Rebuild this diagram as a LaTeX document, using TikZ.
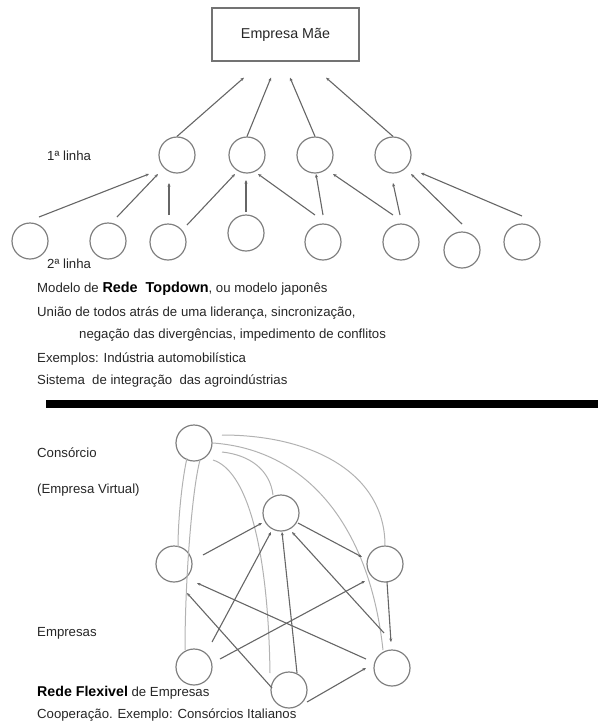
\documentclass[tikz,border=0pt]{standalone}
\usepackage{fontspec}
\setmainfont{Liberation Sans}
\usetikzlibrary{calc,arrows.meta}

\begin{document}
\begin{tikzpicture}[x=1pt,y=-1pt,font=\fontsize{13.2}{15}\selectfont,
  circ/.style={draw=black!50,line width=1.2pt,circle,minimum size=36pt,inner sep=0pt},
  arr/.style={draw=black!60,line width=1.1pt,-{Stealth[length=3.5pt,width=3pt]}},
  curv/.style={draw=black!30,line width=1pt},
  txt/.style={anchor=base west,inner sep=0pt,text=black!85}]
\useasboundingbox (0,0) rectangle (598,724);

\begin{scope}
\node[draw=black!55,line width=1.2pt,minimum width=147pt,minimum height=53pt,
  text=black!85,font=\fontsize{14.3}{16}\selectfont] (mae) at (285.5,34.5) {Empresa Mãe};

\node[circ] (l1) at (177,155) {};
\node[circ] (l2) at (247,155) {};
\node[circ] (l3) at (315,155) {};
\node[circ] (l4) at (393,155) {};

\node[circ] (c1) at (30,241) {};
\node[circ] (c2) at (108,241) {};
\node[circ] (c3) at (168,242) {};
\node[circ] (c4) at (246,233) {};
\node[circ] (c5) at (323,242) {};
\node[circ] (c6) at (401,242) {};
\node[circ] (c7) at (462,250) {};
\node[circ] (c8) at (522,242) {};

\draw[arr] (l1.north) -- ($(mae.south)+(-41.5,16)$);
\draw[arr] (l2.north) -- ($(mae.south)+(-14.5,16)$);
\draw[arr] (l3.north) -- ($(mae.south)+(4.5,16)$);
\draw[arr] (l4.north) -- ($(mae.south)+(40.5,16)$);

\draw[arr] ($(c1)+(9,-24)$) -- ($(l1)+(-28,19)$);
\draw[arr] ($(c2)+(9,-24)$) -- ($(l1)+(-19,19)$);
\draw[arr] ($(c3)+(1,-27)$) -- ($(l1)+(-8,28)$);
\draw[arr] ($(c3)+(19,-17)$) -- ($(l2)+(-12,19)$);
\draw[arr] ($(c4)+(0,-21)$) -- ($(l2)+(-1,25)$);
\draw[arr] ($(c5)+(-8,-27)$) -- ($(l2)+(11,19)$);
\draw[arr] ($(c5)+(0,-27)$) -- ($(l3)+(1,19)$);
\draw[arr] ($(c6)+(-8,-27)$) -- ($(l3)+(18,19)$);
\draw[arr] ($(c6)+(-1,-27)$) -- ($(l4)+(0,28)$);
\draw[arr] ($(c7)+(0,-26)$) -- ($(l4)+(18,19)$);
\draw[arr] ($(c8)+(0,-26)$) -- ($(l4)+(28,18)$);

\node[txt] (linha1) at (47,160) {1ª linha};
\node[txt] (linha2) at (47,268) {2ª linha};

\node[txt] (t1) at (37,292) {Modelo de {\fontsize{14.4}{16}\selectfont\bfseries\color{black}Rede\ \ Topdown}, ou modelo japonês};
\node[txt] (t2) at (37,316) {União de todos atrás de uma liderança, sincronização,};
\node[txt] (t3) at (79,338) {negação das divergências, impedimento de conflitos};
\node[txt] (t4) at (37,362) {Exemplos: Indústria automobilística};
\node[txt] (t5) at (37,384) {Sistema\ \ de integração\ \ das agroindústrias};
\end{scope}

\fill[black] (46,400) rectangle (598,408);

\begin{scope}
\node[circ] (a) at (194,443) {};
\node[circ] (b) at (281,513) {};
\node[circ] (c) at (174,564) {};
\node[circ] (d) at (385,564) {};
\node[circ] (e) at (194,667) {};
\node[circ] (f) at (289,690) {};
\node[circ] (g) at (392,668) {};

\draw[curv] ($(a)+(28,-8)$) .. controls (315,435) and (385,475) .. (d.north);
\draw[curv] ($(a)+(19,0)$) .. controls (310,450) and (370,530) .. ($(g)+(-9,-18)$);
\draw[curv] ($(a)+(28,9)$) .. controls (250,455) and (270,470) .. ($(b)+(-8,-18)$);
\draw[curv] ($(a)+(19,17)$) .. controls (245,470) and (268,540) .. ($(f)+(-19,-17)$);
\draw[curv] ($(a)+(6,17)$) .. controls (192,490) and (185,580) .. ($(e)+(-9,-17)$);
\draw[curv] ($(a)+(-7,15)$) .. controls (182,480) and (178,520) .. ($(c)+(4,-17)$);

\draw[arr] ($(c)+(29,-9)$) -- ($(b)+(-19,10)$);
\draw[arr] ($(b)+(17,10)$) -- ($(d)+(-23,-7)$);
\draw[arr] ($(d)+(2,18)$) -- ($(g)+(-1,-26)$);
\draw[arr] ($(e)+(18,-25)$) -- ($(b)+(-10,19)$);
\draw[arr] ($(e)+(26,-8)$) -- ($(d)+(-20,17)$);
\draw[arr] ($(f)+(8,-17)$) -- ($(b)+(1,19)$);
\draw[arr] ($(g)+(-8,-35)$) -- ($(b)+(11,19)$);
\draw[arr] ($(g)+(-26,-9)$) -- ($(c)+(23,19)$);
\draw[arr] ($(f)+(-17,-2)$) -- ($(c)+(13,29)$);
\draw[arr] ($(f)+(18,12)$) -- ($(g)+(-26,0)$);

\node[txt] (cons) at (37,457) {Consórcio};
\node[txt] (virt) at (37,493) {(Empresa Virtual)};
\node[txt] (emps) at (37,636) {Empresas};
\node[txt] (flex) at (37,696) {{\fontsize{14.2}{16}\selectfont\bfseries\color{black}Rede Flexivel} de Empresas};
\node[txt] (coop) at (37,718) {Cooperação. Exemplo: Consórcios Italianos};
\end{scope}

\end{tikzpicture}
\end{document}
